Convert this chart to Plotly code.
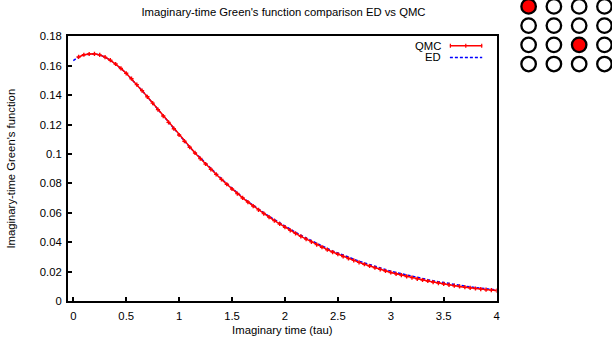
import plotly.graph_objects as go

# ---------------- data ----------------
tau_ed = [0.00, 0.05, 0.10, 0.15, 0.20, 0.25, 0.30, 0.35, 0.40, 0.45,
          0.50, 0.55, 0.60, 0.65, 0.70, 0.75, 0.80, 0.85, 0.90, 0.95,
          1.00, 1.05, 1.10, 1.15, 1.20, 1.25, 1.30, 1.35, 1.40, 1.45,
          1.50, 1.55, 1.60, 1.65, 1.70, 1.75, 1.80, 1.85, 1.90, 1.95,
          2.00, 2.05, 2.10, 2.15, 2.20, 2.25, 2.30, 2.35, 2.40, 2.45,
          2.50, 2.55, 2.60, 2.65, 2.70, 2.75, 2.80, 2.85, 2.90, 2.95,
          3.00, 3.05, 3.10, 3.15, 3.20, 3.25, 3.30, 3.35, 3.40, 3.45,
          3.50, 3.55, 3.60, 3.65, 3.70, 3.75, 3.80, 3.85, 3.90, 3.95,
          4.00]

g_ed = [0.1635, 0.1660, 0.1675, 0.1680, 0.1681, 0.1674, 0.1659, 0.1638, 0.1612, 0.1582,
        0.1549, 0.1512, 0.1472, 0.1431, 0.1389, 0.1346, 0.1302, 0.1258, 0.1215, 0.1172,
        0.1129, 0.1087, 0.1046, 0.1010, 0.0973, 0.0936, 0.0900, 0.0865, 0.0831, 0.0798,
        0.0766, 0.0735, 0.0705, 0.0677, 0.0650, 0.0624, 0.0600, 0.0576, 0.0553, 0.0530,
        0.0508, 0.0487, 0.0467, 0.0447, 0.0428, 0.0410, 0.0392, 0.0374, 0.0357, 0.0341,
        0.0326, 0.0311, 0.0297, 0.0284, 0.0271, 0.0259, 0.0247, 0.0235, 0.0224, 0.0213,
        0.0203, 0.0194, 0.0185, 0.0176, 0.0168, 0.0160, 0.0152, 0.0145, 0.0138, 0.0131,
        0.0125, 0.0118, 0.0112, 0.0107, 0.0101, 0.0096, 0.0091, 0.0087, 0.0083, 0.0079,
        0.0075]

tau_qmc = [0.05, 0.10, 0.15, 0.20, 0.25, 0.30, 0.35, 0.40, 0.45,
           0.50, 0.55, 0.60, 0.65, 0.70, 0.75, 0.80, 0.85, 0.90, 0.95,
           1.00, 1.05, 1.10, 1.15, 1.20, 1.25, 1.30, 1.35, 1.40, 1.45,
           1.50, 1.55, 1.60, 1.65, 1.70, 1.75, 1.80, 1.85, 1.90, 1.95,
           2.00, 2.05, 2.10, 2.15, 2.20, 2.25, 2.30, 2.35, 2.40, 2.45,
           2.50, 2.55, 2.60, 2.65, 2.70, 2.75, 2.80, 2.85, 2.90, 2.95,
           3.00, 3.05, 3.10, 3.15, 3.20, 3.25, 3.30, 3.35, 3.40, 3.45,
           3.50, 3.55, 3.60, 3.65, 3.70, 3.75, 3.80, 3.85, 3.90, 3.95,
           4.00]

g_qmc = [0.1660, 0.1675, 0.1680, 0.1681, 0.1674, 0.1659, 0.1638, 0.1612, 0.1582,
         0.1549, 0.1512, 0.1472, 0.1431, 0.1389, 0.1346, 0.1302, 0.1258, 0.1215, 0.1172,
         0.1129, 0.1087, 0.1046, 0.1007, 0.0969, 0.0932, 0.0896, 0.0861, 0.0827, 0.0794,
         0.0762, 0.0731, 0.0701, 0.0673, 0.0646, 0.0620, 0.0595, 0.0571, 0.0547, 0.0524,
         0.0502, 0.0481, 0.0460, 0.0440, 0.0421, 0.0402, 0.0384, 0.0366, 0.0349, 0.0333,
         0.0318, 0.0303, 0.0289, 0.0276, 0.0263, 0.0250, 0.0238, 0.0226, 0.0215, 0.0204,
         0.0194, 0.0185, 0.0176, 0.0167, 0.0159, 0.0151, 0.0143, 0.0136, 0.0129, 0.0122,
         0.0116, 0.0110, 0.0104, 0.0099, 0.0094, 0.0089, 0.0085, 0.0081, 0.0077, 0.0074,
         0.0071]

x_ticks = [0, 0.5, 1, 1.5, 2, 2.5, 3, 3.5, 4]
x_tick_text = ["0", "0.5", "1", "1.5", "2", "2.5", "3", "3.5", "4"]
y_ticks = [0, 0.02, 0.04, 0.06, 0.08, 0.1, 0.12, 0.14, 0.16, 0.18]
y_tick_text = ["0", "0.02", "0.04", "0.06", "0.08", "0.1", "0.12", "0.14", "0.16", "0.18"]

# lattice inset (4x4 sites, two occupied)
site_col = [0, 1, 2, 3, 0, 1, 2, 3, 0, 1, 2, 3, 0, 1, 2, 3]
site_row = [0, 0, 0, 0, 1, 1, 1, 1, 2, 2, 2, 2, 3, 3, 3, 3]
site_occ = [1, 0, 0, 0, 0, 0, 0, 0, 0, 0, 1, 0, 0, 0, 0, 0]

# ---------------- layout geometry ----------------
W, H = 612, 338
ML, MR, MT, MB = 68, 0, 0, 37
PW, PH = W - ML - MR, H - MT - MB  # 544 x 301
PLOT_R, PLOT_T = 499, 31

def px(x):
    return (x - ML) / PW

def py(y):
    return (MT + PH - y) / PH

FONT = "Liberation Sans, Arial, sans-serif"
FS = 11.3

fig = go.Figure()

fig.add_trace(go.Scatter(
    x=tau_ed, y=g_ed, mode="lines", name="ED",
    line=dict(color="#0000ff", width=1.5, dash="3px,2px"),
    showlegend=False, xaxis="x", yaxis="y"))

fig.add_trace(go.Scatter(
    x=tau_qmc, y=g_qmc, mode="lines+markers", name="QMC",
    line=dict(color="#ff0000", width=1.5),
    marker=dict(symbol="cross", size=3.5, color="#ff0000"),
    showlegend=False, xaxis="x", yaxis="y"))

fig.add_trace(go.Scatter(
    x=site_col, y=site_row, mode="markers",
    marker=dict(symbol="circle", size=14.5,
                color=["#ff0000" if o else "#ffffff" for o in site_occ],
                line=dict(color="#000000", width=2.3)),
    cliponaxis=False, showlegend=False, hoverinfo="skip",
    xaxis="x2", yaxis="y2"))

axis_common = dict(showgrid=False, zeroline=False, showline=True, linecolor="#000000",
                   linewidth=2, mirror=True, ticks="inside", ticklen=4, tickwidth=2,
                   tickcolor="#000000", tickfont=dict(family=FONT, size=FS, color="#000000"))

fig.update_layout(
    width=W, height=H,
    margin=dict(l=ML, r=MR, t=MT, b=MB, pad=0),
    paper_bgcolor="#ffffff", plot_bgcolor="#ffffff",
    font=dict(family=FONT, size=FS, color="#000000"),
    title=dict(text="Imaginary-time Green's function comparison ED vs QMC",
               x=283.5 / W, xref="container", xanchor="center",
               y=1 - 12 / H, yref="container", yanchor="middle",
               font=dict(family=FONT, size=FS, color="#000000")),
    xaxis=dict(domain=[0, (PLOT_R - ML) / PW], range=[-0.05, 4.0],
               tickvals=x_ticks, ticktext=x_tick_text, ticklabelstandoff=3,
               title=dict(text="Imaginary time (tau)", standoff=6,
                          font=dict(family=FONT, size=FS)),
               **axis_common),
    yaxis=dict(domain=[0, py(PLOT_T)], range=[0, 0.18],
               tickvals=y_ticks, ticktext=y_tick_text, ticklabelstandoff=2,
               title=dict(text="Imaginary-time Green's function", standoff=22,
                          font=dict(family=FONT, size=FS)),
               **axis_common),
    xaxis2=dict(domain=[px(521), 1.0], range=[-0.40, 3.18], visible=False,
                anchor="y2", fixedrange=True),
    yaxis2=dict(domain=[py(70), 1.0], range=[3.55, -0.02], visible=False,
                anchor="x2", fixedrange=True),
    showlegend=False,
)

# custom gnuplot-style key (text followed by sample)
fig.add_annotation(x=px(445), y=py(40.5), xref="paper", yref="paper", text="QMC",
                   showarrow=False, xanchor="right", yanchor="middle",
                   font=dict(family=FONT, size=FS, color="#000000"))
fig.add_annotation(x=px(445), y=py(52.5), xref="paper", yref="paper", text="ED",
                   showarrow=False, xanchor="right", yanchor="middle",
                   font=dict(family=FONT, size=FS, color="#000000"))
fig.add_shape(type="line", xref="paper", yref="paper", x0=px(452), x1=px(484.5),
              y0=py(40.5), y1=py(40.5), line=dict(color="#ff0000", width=1.5))
for xc in (452.5, 468, 484):
    fig.add_shape(type="line", xref="paper", yref="paper", x0=px(xc), x1=px(xc),
                  y0=py(38.5), y1=py(42.5), line=dict(color="#ff0000", width=1.2))
fig.add_shape(type="line", xref="paper", yref="paper", x0=px(452), x1=px(484.5),
              y0=py(52.5), y1=py(52.5),
              line=dict(color="#0000ff", width=1.5, dash="3px,2px"))

fig.write_html("out.html")
